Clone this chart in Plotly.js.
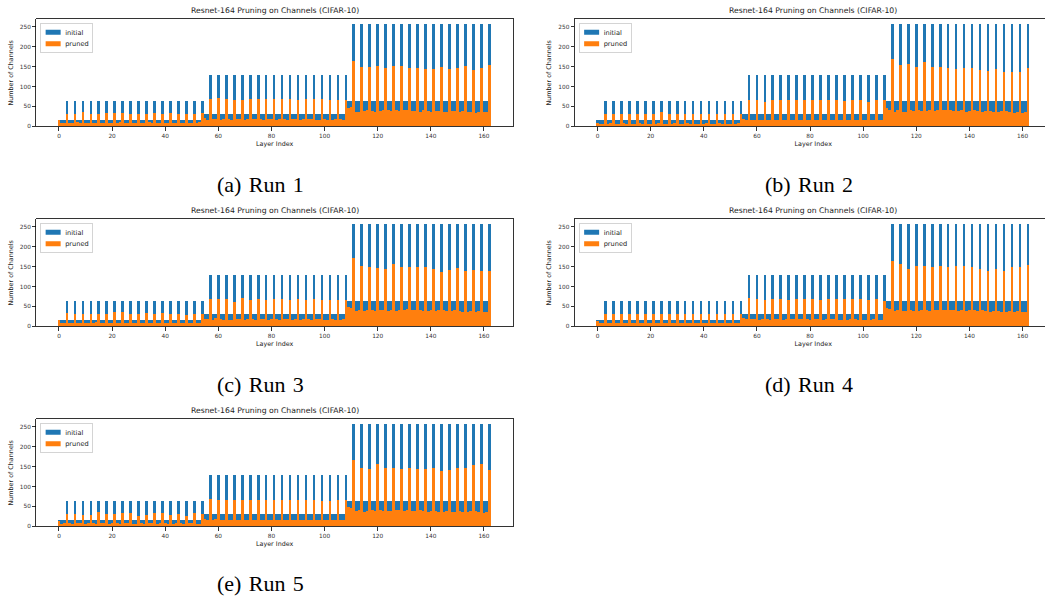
<!DOCTYPE html>
<html>
<head>
<meta charset="utf-8">
<script src="https://cdn.plot.ly/plotly-3.0.1.min.js"></script>
<style>
html, body { margin: 0; padding: 0; overflow: hidden; background: #ffffff; }
#chart { width: 1054px; height: 600px; }
</style>
</head>
<body>
<div id="chart"></div>
<script>
// ---- data -----------------------------------------------------------
const chartTitle = 'Resnet-164 Pruning on Channels (CIFAR-10)';
const runLabels = ['(a)\u2004Run\u20041', '(b)\u2004Run\u20042', '(c)\u2004Run\u20043', '(d)\u2004Run\u20044', '(e)\u2004Run\u20045'];
const seriesNames = ['initial', 'pruned'];
const xTickValues = [0, 20, 40, 60, 80, 100, 120, 140, 160];
const yTickValues = [0, 50, 100, 150, 200, 250];

const initialChannels = [
  16,
  16,16,64, 16,16,64, 16,16,64, 16,16,64, 16,16,64, 16,16,64, 16,16,64, 16,16,64, 16,16,64,
  16,16,64, 16,16,64, 16,16,64, 16,16,64, 16,16,64, 16,16,64, 16,16,64, 16,16,64, 16,16,64,
  32,32,128, 32,32,128, 32,32,128, 32,32,128, 32,32,128, 32,32,128, 32,32,128, 32,32,128, 32,32,128,
  32,32,128, 32,32,128, 32,32,128, 32,32,128, 32,32,128, 32,32,128, 32,32,128, 32,32,128, 32,32,128,
  64,64,256, 64,64,256, 64,64,256, 64,64,256, 64,64,256, 64,64,256, 64,64,256, 64,64,256, 64,64,256,
  64,64,256, 64,64,256, 64,64,256, 64,64,256, 64,64,256, 64,64,256, 64,64,256, 64,64,256, 64,64,256
];

const prunedRun1 = [
  16,
  9,8,31, 9,9,32, 10,8,36, 8,9,31, 9,9,32, 9,8,34, 8,9,34, 9,10,33, 9,8,32,
  8,9,31, 9,9,32, 10,8,34, 9,9,31, 8,9,33, 9,8,31, 9,9,30, 8,9,30, 9,10,33,
  20,17,69, 18,18,71, 17,19,68, 18,17,66, 19,18,67, 17,18,69, 18,18,69, 19,17,69, 18,18,68,
  17,18,68, 18,17,68, 18,19,66, 17,18,68, 18,18,68, 17,16,68, 18,17,66, 17,18,67, 18,17,65,
  46,48,163, 37,36,150, 38,40,150, 38,37,152, 39,41,147, 40,38,152, 41,39,152, 42,40,147, 39,38,147,
  37,40,145, 38,36,145, 39,38,150, 37,36,143, 38,39,147, 37,38,152, 35,36,141, 34,37,147, 36,35,154
];

const prunedRun2 = [
  9,
  7,7,32, 7,8,31, 7,7,31, 8,7,31, 7,7,32, 8,7,31, 7,7,31, 7,8,36, 7,7,32,
  7,8,31, 7,7,32, 8,7,31, 7,7,32, 7,8,31, 7,7,32, 8,7,31, 7,7,32, 7,8,31,
  19,16,67, 16,16,67, 17,15,62, 16,15,67, 17,16,67, 16,17,67, 15,16,67, 16,16,67, 17,15,67,
  16,16,65, 16,17,67, 15,16,67, 16,16,64, 16,15,67, 17,16,66, 16,16,62, 15,16,65, 16,16,67,
  47,40,169, 36,42,153, 36,37,157, 42,38,148, 40,39,162, 38,41,150, 38,40,150, 40,42,146, 40,38,143,
  39,41,146, 37,38,146, 40,39,142, 37,38,140, 38,37,143, 36,39,137, 38,37,136, 33,35,136, 34,36,146
];

const prunedRun3 = [
  16,
  8,9,33, 9,8,31, 9,9,32, 8,8,31, 9,10,32, 8,9,31, 9,8,35, 9,9,37, 8,9,31,
  9,8,31, 9,9,33, 8,9,32, 9,8,33, 9,9,32, 8,9,32, 9,8,29, 9,9,31, 8,8,32,
  19,18,69, 17,20,68, 18,17,68, 17,16,62, 18,18,72, 17,19,66, 18,17,68, 18,18,67, 17,18,68,
  18,17,68, 18,18,66, 16,18,68, 17,18,66, 18,17,68, 18,18,66, 17,17,67, 18,16,66, 17,18,67,
  48,45,172, 39,40,152, 38,41,150, 40,39,146, 41,42,144, 38,40,156, 39,41,150, 42,43,148, 40,41,148,
  41,39,150, 38,40,144, 39,41,136, 40,38,142, 39,41,146, 38,37,140, 36,39,142, 37,38,140, 35,36,138
];

const prunedRun4 = [
  13,
  8,8,32, 8,9,30, 8,8,30, 9,8,30, 8,8,32, 8,9,30, 8,8,30, 9,8,32, 8,8,30,
  8,9,32, 8,8,32, 9,8,30, 8,8,30, 8,8,32, 9,8,32, 8,8,30, 8,9,32, 8,8,30,
  20,18,70, 18,18,68, 17,18,66, 18,17,68, 18,18,68, 17,18,66, 18,18,68, 18,18,68, 18,17,68,
  18,18,66, 17,18,68, 18,18,68, 17,17,68, 17,18,68, 18,17,68, 17,17,66, 17,18,68, 17,17,64,
  47,43,165, 38,40,156, 39,38,143, 40,39,151, 38,40,151, 41,39,150, 42,40,151, 40,41,148, 40,42,151,
  39,41,151, 38,40,148, 41,38,144, 40,38,140, 36,39,143, 38,36,140, 37,38,150, 36,38,150, 35,36,153
];

const prunedRun5 = [
  14,
  7,8,30, 8,7,30, 8,8,29, 7,8,29, 8,7,35, 8,8,30, 7,8,30, 8,7,33, 8,8,33,
  7,7,27, 8,7,29, 8,8,33, 7,8,33, 8,7,29, 7,8,30, 8,7,27, 8,8,33, 7,7,30,
  18,17,69, 17,18,66, 17,16,66, 17,17,65, 16,17,66, 17,16,67, 16,17,65, 17,17,66, 17,16,66,
  16,17,66, 17,16,66, 16,17,66, 17,16,66, 16,15,66, 17,16,64, 16,16,64, 17,16,66, 16,17,66,
  48,46,166, 38,40,147, 37,39,145, 42,39,157, 40,38,147, 38,39,147, 40,42,144, 39,40,147, 38,39,144,
  40,38,144, 37,39,147, 38,37,140, 36,38,142, 37,36,147, 38,37,147, 36,38,153, 38,37,157, 34,35,142
];

const prunedRuns = [prunedRun1, prunedRun2, prunedRun3, prunedRun4, prunedRun5];
const layerIndex = initialChannels.map((_, i) => i);

// ---- layout geometry (pixels) ---------------------------------------
const W = 1054, H = 600;
const panels = [
  { left: 36.3,  right: 513.0,  top: 19.3,  bottom: 126.3, cap: [260.5, 184] },
  { left: 574.8, right: 1051.6, top: 19.3,  bottom: 126.3, cap: [808.5, 184] },
  { left: 36.3,  right: 513.0,  top: 219.3, bottom: 326.3, cap: [260.5, 384] },
  { left: 574.8, right: 1051.6, top: 219.3, bottom: 326.3, cap: [808.5, 384] },
  { left: 36.3,  right: 513.0,  top: 419.3, bottom: 526.3, cap: [260.5, 583] }
];
const BLUE = '#1f77b4', ORANGE = '#ff7f0e';
const FONT = 'DejaVu Sans, sans-serif';
const LEGEND_SCALE = 0.6;

const px = v => v / W;
const py = v => 1 - v / H;

const traces = [];
const legendNames = [];
const layout = {
  width: W, height: H,
  margin: { l: 0, r: 0, t: 0, b: 0 },
  paper_bgcolor: '#ffffff', plot_bgcolor: '#ffffff',
  barmode: 'overlay', bargap: 0,
  showlegend: true,
  font: { family: FONT, color: '#222222', size: 6 },
  annotations: []
};

panels.forEach((p, i) => {
  const k = i + 1;
  const xa = k === 1 ? 'x' : 'x' + k;
  const ya = k === 1 ? 'y' : 'y' + k;
  const lg = k === 1 ? 'legend' : 'legend' + k;
  legendNames.push(lg);

  traces.push({
    type: 'bar', x: layerIndex, y: initialChannels, width: 1.0,
    name: seriesNames[0], xaxis: xa, yaxis: ya, legend: lg,
    marker: { color: BLUE, opacity: 1, line: { width: 0 } },
    hoverinfo: 'skip'
  });
  traces.push({
    type: 'bar', x: layerIndex, y: prunedRuns[i], width: 1.0,
    name: seriesNames[1], xaxis: xa, yaxis: ya, legend: lg,
    marker: { color: ORANGE, opacity: 1, line: { width: 0 } },
    hoverinfo: 'skip'
  });

  const axisCommon = {
    showline: true, mirror: true, linecolor: '#000000', linewidth: 0.8,
    ticks: 'outside', ticklen: 3.5, tickwidth: 0.8, tickcolor: '#000000',
    showgrid: false, zeroline: false,
    tickfont: { family: FONT, size: 5.8, color: '#333333' },
    fixedrange: true
  };
  layout['xaxis' + (k === 1 ? '' : k)] = Object.assign({}, axisCommon, {
    domain: [px(p.left), px(p.right)],
    anchor: ya,
    range: [-8.54, 170.94],
    tickmode: 'array', tickvals: xTickValues,
    title: { text: 'Layer Index', font: { family: FONT, size: 6.4, color: '#222222' }, standoff: 3 }
  });
  layout['yaxis' + (k === 1 ? '' : k)] = Object.assign({}, axisCommon, {
    domain: [py(p.bottom), py(p.top)],
    anchor: xa,
    range: [0, 268.8],
    tickmode: 'array', tickvals: yTickValues,
    title: { text: 'Number of Channels', font: { family: FONT, size: 6.4, color: '#222222' }, standoff: 5 }
  });
  layout[lg] = {
    x: px(p.left + 4), y: py(p.top + 3.5), xanchor: 'left', yanchor: 'top',
    xref: 'paper', yref: 'paper',
    bgcolor: 'rgba(255,255,255,0.85)', bordercolor: '#cccccc', borderwidth: 1.4,
    font: { family: FONT, size: 11, color: '#222222' },
    itemwidth: 30, tracegroupgap: 0, traceorder: 'normal'
  };
  layout.annotations.push({
    xref: 'paper', yref: 'paper',
    x: px((p.left + p.right) / 2), y: py(p.top - 8.5),
    xanchor: 'center', yanchor: 'middle', showarrow: false,
    text: chartTitle, font: { family: FONT, size: 7.7, color: '#222222' }
  });
  layout.annotations.push({
    xref: 'paper', yref: 'paper',
    x: px(p.cap[0]), y: py(p.cap[1]),
    xanchor: 'center', yanchor: 'middle', showarrow: false,
    text: runLabels[i], font: { family: 'Liberation Serif, Times New Roman, serif', size: 22, color: '#000000' }
  });
});

Plotly.newPlot('chart', traces, layout, { staticPlot: true, displayModeBar: false }).then(gd => {
  // compact matplotlib-style legends: shrink each legend box and use wide flat patches
  legendNames.forEach(name => {
    gd.querySelectorAll('g.' + name).forEach(g => {
      const t = g.getAttribute('transform') || '';
      g.setAttribute('transform', t + ' scale(' + LEGEND_SCALE + ')');
      g.querySelectorAll('.legendpoints path').forEach(path => {
        path.setAttribute('d', 'M12.5,4.2H-12.5V-4.2H12.5Z');
      });
    });
  });
});
</script>
</body>
</html>
